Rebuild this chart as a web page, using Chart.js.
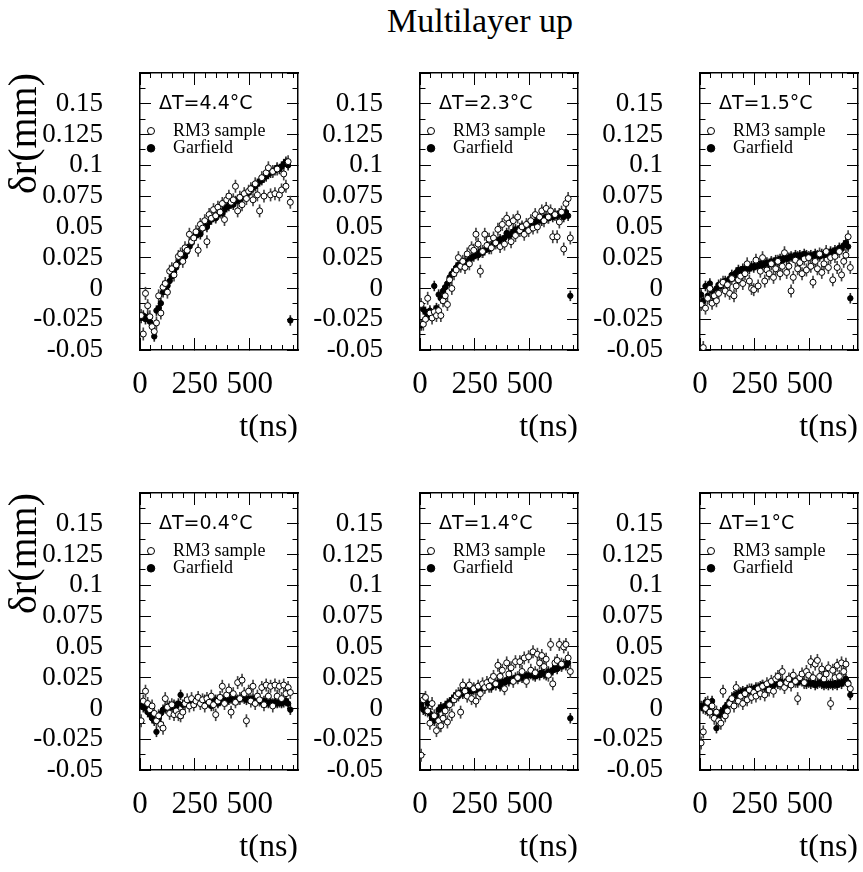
<!DOCTYPE html>
<html><head><meta charset="utf-8">
<script src="https://cdn.jsdelivr.net/npm/chart.js@4.4.1/dist/chart.umd.min.js"></script>
<style>
html,body{margin:0;padding:0;background:#fff;overflow:hidden;width:863px;height:872px;position:relative;}
#title{position:absolute;left:280px;width:400px;top:4px;text-align:center;font:34px 'Liberation Serif',serif;line-height:34px;color:#000;}
canvas{position:absolute;}
</style></head><body>
<div id="title">Multilayer up</div>
<canvas id="c0" width="303" height="392" style="left:0px;top:63px;width:303px;height:392px"></canvas>
<canvas id="c1" width="303" height="392" style="left:280px;top:63px;width:303px;height:392px"></canvas>
<canvas id="c2" width="303" height="392" style="left:560px;top:63px;width:303px;height:392px"></canvas>
<canvas id="c3" width="303" height="392" style="left:0px;top:483px;width:303px;height:392px"></canvas>
<canvas id="c4" width="303" height="392" style="left:280px;top:483px;width:303px;height:392px"></canvas>
<canvas id="c5" width="303" height="392" style="left:560px;top:483px;width:303px;height:392px"></canvas>
<script>
// ---------------- data ----------------
const times = [5,15,25,35,45,55,65,75,85,95,105,115,125,135,145,155,165,175,185,195,
  205,215,225,235,245,255,265,275,285,295,305,315,325,335,345,355,365,375,385,395,
  405,415,425,435,445,455,465,475,485,495,505,515,525,535,545,555,565,575,585,595,
  605,615,625,635,645,655,665,675,685];

const panelLabels = ['\u0394T=4.4\u00b0C','\u0394T=2.3\u00b0C','\u0394T=1.5\u00b0C','\u0394T=0.4\u00b0C','\u0394T=1.4\u00b0C','\u0394T=1\u00b0C'];
const seriesNames = ['RM3 sample','Garfield'];

const rm3_dT44 = [-0.022,-0.037,-0.004,-0.014,-0.023,-0.031,-0.035,-0.028,-0.006,-0.020,
  0.001,0.004,-0.003,0.014,0.016,0.011,0.019,0.026,0.028,0.022,
  0.033,0.031,0.044,0.038,0.041,0.046,0.031,0.052,0.049,0.055,
  0.038,0.060,0.057,0.064,0.059,0.066,0.062,0.069,0.056,0.072,
  0.075,0.070,0.072,0.083,0.063,0.074,0.068,0.077,0.073,0.079,
  0.081,0.072,0.085,0.076,0.063,0.090,0.075,0.094,0.098,0.076,
  0.095,0.077,0.097,0.076,0.080,0.093,0.083,0.103,0.070];
const gar_dT44 = [-0.024,-0.022,-0.025,-0.023,-0.027,-0.030,-0.039,-0.018,-0.016,-0.012,
  -0.003,-0.001,0.002,0.006,0.010,0.013,0.017,0.021,0.024,0.027,
  0.026,0.030,0.034,0.037,0.041,0.043,0.045,0.044,0.049,0.051,
  0.050,0.054,0.056,0.058,0.057,0.060,0.062,0.061,0.064,0.066,
  0.067,0.069,0.068,0.071,0.072,0.071,0.074,0.075,0.076,0.078,
  0.080,0.082,0.083,0.085,0.087,0.088,0.090,0.091,0.093,0.094,
  0.095,0.096,0.098,0.097,0.099,0.101,0.103,0.100,-0.026];

const rm3_dT23 = [-0.013,-0.029,-0.025,-0.008,-0.020,-0.024,-0.019,-0.022,-0.018,-0.022,
  -0.010,-0.006,-0.013,0.007,0.000,0.012,0.015,0.025,0.018,0.022,
  0.017,0.028,0.020,0.033,0.031,0.044,0.036,0.014,0.030,0.044,
  0.035,0.040,0.033,0.041,0.037,0.048,0.034,0.052,0.036,0.057,
  0.053,0.038,0.055,0.043,0.058,0.047,0.050,0.044,0.052,0.047,
  0.055,0.049,0.060,0.050,0.058,0.063,0.055,0.065,0.058,0.063,
  0.042,0.060,0.042,0.054,0.062,0.032,0.069,0.073,0.041];
const gar_dT23 = [-0.030,-0.017,-0.019,-0.022,-0.018,-0.021,0.002,-0.016,-0.005,-0.008,
  -0.002,0.001,0.004,0.009,0.012,0.014,0.017,0.019,0.018,0.020,
  0.022,0.020,0.023,0.025,0.026,0.028,0.027,0.030,0.029,0.031,
  0.033,0.032,0.034,0.036,0.037,0.038,0.040,0.039,0.041,0.045,
  0.043,0.044,0.046,0.048,0.047,0.049,0.050,0.049,0.051,0.052,
  0.053,0.052,0.054,0.055,0.056,0.055,0.057,0.058,0.057,0.059,
  0.058,0.060,0.059,0.061,0.060,0.058,0.062,0.059,-0.006];

const rm3_dT15 = [-0.013,-0.048,-0.016,-0.008,0.000,-0.012,-0.006,-0.010,-0.004,0.003,
  0.005,-0.002,0.003,-0.004,0.008,-0.006,0.002,0.007,0.010,0.004,
  0.012,0.020,0.006,0.000,-0.001,0.023,0.002,0.014,0.025,0.006,
  0.015,0.012,0.020,0.009,0.016,0.022,0.012,0.018,0.029,0.013,
  0.018,-0.002,0.009,0.023,0.016,0.021,0.012,0.024,0.015,0.025,
  0.018,0.005,0.022,0.016,0.028,0.013,0.020,0.030,0.017,0.025,
  0.007,0.026,0.017,0.030,0.011,0.022,0.027,0.042,0.017];
const gar_dT15 = [-0.005,-0.010,0.002,-0.006,0.004,-0.002,-0.007,0.000,0.003,0.002,
  0.004,0.006,0.005,0.008,0.011,0.010,0.013,0.015,0.014,0.016,
  0.015,0.017,0.016,0.018,0.017,0.019,0.018,0.020,0.019,0.020,
  0.021,0.020,0.022,0.021,0.023,0.022,0.024,0.023,0.025,0.024,
  0.025,0.026,0.025,0.027,0.026,0.027,0.026,0.028,0.027,0.026,
  0.027,0.026,0.028,0.027,0.026,0.028,0.027,0.029,0.028,0.030,
  0.029,0.031,0.030,0.033,0.032,0.035,0.037,0.034,-0.008];

const rm3_dT04 = [-0.010,0.006,0.014,0.004,-0.001,0.002,-0.004,-0.010,-0.006,-0.013,
  -0.016,0.008,0.001,-0.004,0.003,-0.005,-0.002,-0.005,-0.006,-0.003,
  0.004,0.007,0.002,0.008,0.003,0.006,0.009,0.004,0.007,0.002,
  0.008,0.005,0.010,0.003,-0.005,0.006,0.009,0.018,0.004,0.011,
  0.015,-0.003,0.012,0.005,0.021,0.008,0.023,0.012,-0.010,0.014,
  0.006,0.018,0.004,0.010,0.007,0.017,0.003,0.019,0.010,0.018,
  0.002,0.019,0.010,0.018,0.008,0.019,0.012,0.017,0.013];
const gar_dT04 = [0.003,0.001,0.000,-0.003,-0.005,-0.008,-0.010,-0.019,-0.008,-0.004,
  -0.001,0.000,0.001,0.002,0.001,0.003,0.002,0.004,0.011,0.003,
  0.004,0.005,0.004,0.006,0.005,0.006,0.007,0.005,0.006,0.007,
  0.006,0.007,0.002,0.006,0.007,0.004,0.006,0.007,0.008,0.006,
  0.007,0.008,0.007,0.008,0.007,0.008,0.009,0.008,0.007,0.008,
  0.007,0.008,0.006,0.007,0.006,0.005,0.006,0.005,0.004,0.005,
  0.004,0.005,0.004,0.005,0.004,0.005,0.006,0.004,-0.001];

const rm3_dT14 = [-0.038,0.007,0.009,-0.002,-0.012,0.004,-0.006,-0.018,-0.010,-0.014,
  -0.008,-0.002,-0.011,0.003,-0.005,0.007,0.010,0.012,-0.003,0.019,
  0.014,0.010,0.019,0.008,0.016,0.006,0.018,0.012,0.020,0.017,
  0.021,0.018,0.023,0.026,0.020,0.035,0.026,0.031,0.016,0.037,
  0.028,0.033,0.022,0.038,0.025,0.038,0.030,0.041,0.022,0.042,
  0.031,0.046,0.029,0.044,0.037,0.043,0.034,0.040,0.027,0.052,
  0.020,0.037,0.039,0.052,0.036,0.050,0.052,0.041,0.030];
const gar_dT14 = [0.003,-0.001,-0.002,0.004,-0.004,-0.008,-0.010,-0.006,-0.001,0.001,
  0.000,0.002,0.004,0.005,0.007,0.009,0.011,0.010,0.013,0.012,
  0.014,0.013,0.015,0.014,0.016,0.015,0.017,0.016,0.018,0.017,
  0.019,0.018,0.017,0.020,0.019,0.021,0.018,0.022,0.021,0.023,
  0.022,0.024,0.023,0.025,0.024,0.026,0.025,0.027,0.026,0.027,
  0.028,0.027,0.026,0.028,0.027,0.029,0.028,0.027,0.030,0.029,
  0.031,0.033,0.032,0.035,0.034,0.036,0.035,0.037,-0.008];

const rm3_dT10 = [-0.028,-0.019,0.000,0.005,-0.003,0.002,-0.008,-0.003,-0.010,-0.012,
  0.014,-0.006,-0.002,0.004,0.008,0.002,0.017,0.006,0.010,0.004,
  0.012,0.007,0.015,0.009,0.013,0.010,0.016,0.012,0.018,0.011,
  0.020,0.015,0.022,0.014,0.024,0.026,0.020,0.030,0.017,0.021,
  0.024,0.019,0.027,0.022,0.008,0.025,0.028,0.021,0.030,0.027,
  0.038,0.025,0.036,0.039,0.026,0.032,0.024,0.028,0.033,0.004,
  0.031,0.025,0.035,0.026,0.037,0.030,0.036,0.020,0.016];
const gar_dT10 = [0.002,0.000,0.005,-0.002,0.003,0.006,-0.004,-0.016,-0.006,-0.003,
  -0.002,0.001,0.003,0.006,0.008,0.010,0.011,0.012,0.013,0.014,
  0.013,0.015,0.014,0.016,0.015,0.017,0.016,0.018,0.019,0.017,
  0.018,0.019,0.020,0.019,0.021,0.020,0.022,0.021,0.020,0.022,
  0.021,0.022,0.023,0.022,0.021,0.023,0.022,0.021,0.020,0.021,
  0.020,0.021,0.019,0.020,0.021,0.020,0.019,0.020,0.019,0.020,
  0.019,0.020,0.019,0.021,0.020,0.022,0.024,0.021,0.011];

const errRM3 = 0.005;      // half length of RM3 error bars (mm)
const errGarfield = 0.004; // half length of Garfield error bars (mm)

const xMajorTicks = [0,250,500];
const xMinorTicks = [0,50,100,150,200,250,300,350,400,450,500,550,600,650,700];
const yMajorTicks = [-0.05,-0.025,0,0.025,0.05,0.075,0.1,0.125,0.15,0.175];
const yTickLabels = ['-0.05','-0.025','0','0.025','0.05','0.075','0.1','0.125','0.15',''];
const yMinorTicks = [-0.05,-0.0375,-0.025,-0.0125,0,0.0125,0.025,0.0375,0.05,0.0625,0.075,0.0875,0.1,0.1125,0.125,0.1375,0.15,0.1625,0.175];
const xRange = [0,720];
const yRange = [-0.05,0.175];

// ---------------- drawing ----------------
const SERIF = "'Liberation Serif','Times New Roman',serif";
const SANS = "'DejaVu Sans',Arial,sans-serif";

function setTicks(list){ return s => { s.ticks = list.map(v => ({value:v})); }; }
function fixSize(w,h){
  return s => {
    if (w!==null) s.width = w;
    if (h!==null) s.height = h;
    s.paddingTop = 0; s.paddingBottom = 0; s.paddingLeft = 0; s.paddingRight = 0;
  };
}

function axis(pos, list, tickLen, opts){
  const horiz = (pos==='top'||pos==='bottom');
  const base = {
    type:'linear', position:pos, offset:false,
    min: horiz ? xRange[0] : yRange[0],
    max: horiz ? xRange[1] : yRange[1],
    afterBuildTicks: setTicks(list),
    grid:{display:true, offset:false, drawOnChartArea:false, drawTicks:true, tickLength:tickLen, tickColor:'#000', tickWidth:1},
    border:{display:false},
    ticks:{display:false}
  };
  return Object.assign(base, opts||{});
}

// legend drawn inside the plot frame (top-left), like the original
const insideLegend = {
  id:'insideLegend',
  afterDatasetsDraw(chart, args, o){
    const ca = chart.chartArea, ctx = chart.ctx;
    ctx.save();
    ctx.textAlign = 'left';
    ctx.textBaseline = 'middle';
    ctx.fillStyle = '#000';
    ctx.font = '19px ' + SANS;
    ctx.fillText(o.title, ca.left + 19, ca.top + 31);
    let y = ca.top + 58;
    chart.data.datasets.forEach(ds => {
      if (ds.isErr) return;
      ctx.beginPath();
      ctx.arc(ca.left + 11, y, ds.legendR, 0, Math.PI*2);
      ctx.fillStyle = ds.pointBackgroundColor;
      ctx.fill();
      ctx.lineWidth = 1; ctx.strokeStyle = '#000'; ctx.stroke();
      ctx.fillStyle = '#000';
      ctx.font = '18px ' + SERIF;
      ctx.fillText(ds.label, ca.left + 33, y);
      y += 17.3;
    });
    ctx.restore();
  }
};

function makePanel(canvasId, label, rm3, gar, yTitle){
  const errBarsRM3 = times.map((t,i)=>({x:t, y:[rm3[i]-errRM3, rm3[i]+errRM3]}));
  const errBarsGar = times.map((t,i)=>({x:t, y:[gar[i]-errGarfield, gar[i]+errGarfield]}));
  const ptsRM3 = times.map((t,i)=>({x:t, y:rm3[i]}));
  const ptsGar = times.map((t,i)=>({x:t, y:gar[i]}));
  const frame = {display:true, color:'#000', width:1.5};
  new Chart(document.getElementById(canvasId), {
    type:'scatter',
    data:{datasets:[
      {type:'bar', isErr:true, data:errBarsRM3, backgroundColor:'#444', borderWidth:0, barThickness:1, grouped:false, order:3},
      {type:'bar', isErr:true, data:errBarsGar, backgroundColor:'#222', borderWidth:0, barThickness:1, grouped:false, order:4},
      {label:seriesNames[0], data:ptsRM3, pointStyle:'circle', pointRadius:3, borderWidth:1, borderColor:'#000', backgroundColor:'#fff', pointBackgroundColor:'#fff', pointBorderColor:'#000', legendR:3.5, order:1},
      {label:seriesNames[1], data:ptsGar, pointStyle:'circle', pointRadius:2.7, borderWidth:1, borderColor:'#000', backgroundColor:'#000', pointBackgroundColor:'#000', pointBorderColor:'#000', legendR:3.8, order:2}
    ]},
    options:{
      responsive:false, animation:false, devicePixelRatio:1,
      layout:{padding:{left:0, top:10, right:3, bottom:0}},
      plugins:{
        tooltip:{enabled:false},
        legend:{display:false},
        insideLegend:{title:label}
      },
      scales:{
        xm: axis('bottom', xMinorTicks, -5, {weight:0, afterFit:fixSize(null,0)}),
        x: axis('bottom', xMajorTicks, -12, {
          weight:1, afterFit:fixSize(null,105), border:frame,
          ticks:{display:true, color:'#000', font:{family:SERIF, size:31}, padding:28, maxRotation:0, autoSkip:false},
          title:{display:true, text:'t(ns)', align:'end', color:'#000', font:{family:SERIF, size:32}, padding:{top:0,bottom:8}}
        }),
        xt: axis('top', xMajorTicks, -12, {weight:1, afterFit:fixSize(null,0), border:frame}),
        xtm: axis('top', xMinorTicks, -5, {weight:0, afterFit:fixSize(null,0)}),
        ym: axis('left', yMinorTicks, -5.5, {weight:0, afterFit:fixSize(0,null)}),
        y: axis('left', yMajorTicks, -11, {
          weight:1, afterFit:fixSize(140,null), border:frame,
          ticks:{display:true, color:'#000', font:{family:SERIF, size:27}, padding:48, autoSkip:false,
                 callback:(v,i)=>yTickLabels[i]},
          title:{display:yTitle, text:'\u03b4r(mm)', align:'end', color:'#000', font:{family:SERIF, size:40}, padding:{top:1,bottom:0}}
        }),
        yr: axis('right', yMajorTicks, -11, {weight:0, afterFit:fixSize(0,null), border:frame}),
        yrm: axis('right', yMinorTicks, -5.5, {weight:1, afterFit:fixSize(0,null)})
      }
    },
    plugins:[insideLegend]
  });
}

makePanel('c0', panelLabels[0], rm3_dT44, gar_dT44, true);
makePanel('c1', panelLabels[1], rm3_dT23, gar_dT23, false);
makePanel('c2', panelLabels[2], rm3_dT15, gar_dT15, false);
makePanel('c3', panelLabels[3], rm3_dT04, gar_dT04, true);
makePanel('c4', panelLabels[4], rm3_dT14, gar_dT14, false);
makePanel('c5', panelLabels[5], rm3_dT10, gar_dT10, false);
</script>
</body></html>
